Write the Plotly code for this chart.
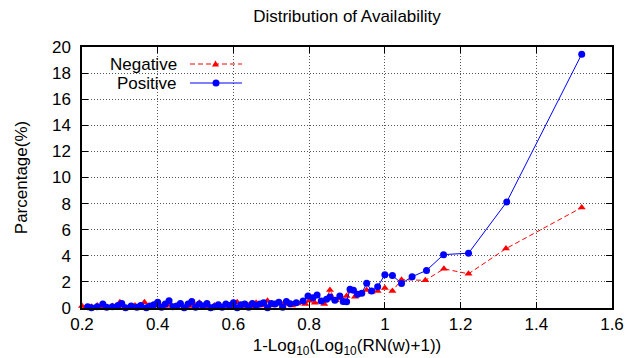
import plotly.graph_objects as go

# ---- data ----
neg_x = [0.2, 0.21, 0.225, 0.24, 0.25, 0.265, 0.28, 0.29, 0.3, 0.31,
         0.325, 0.34, 0.35, 0.365, 0.375, 0.385, 0.395, 0.41, 0.42, 0.435,
         0.45, 0.46, 0.475, 0.49, 0.5, 0.51, 0.52, 0.535, 0.55, 0.56,
         0.575, 0.59, 0.6, 0.61, 0.625, 0.64, 0.65, 0.66, 0.675, 0.69,
         0.70, 0.715, 0.73, 0.74, 0.755, 0.77, 0.78, 0.79, 0.80, 0.815,
         0.83, 0.84,
         0.855, 0.87, 0.88, 0.899, 0.91, 0.921, 0.935, 0.952, 0.965, 0.981,
         1.0, 1.02, 1.044, 1.107, 1.156, 1.221, 1.32, 1.52]
neg_y = [0.15, 0.05, 0.1, 0.2, 0.1, 0.05, 0.15, 0.1, 0.45, 0.15,
         0.1, 0.2, 0.05, 0.45, 0.15, 0.1, 0.2, 0.1, 0.15, 0.25,
         0.1, 0.2, 0.1, 0.15, 0.2, 0.4, 0.1, 0.15, 0.2, 0.05,
         0.2, 0.15, 0.1, 0.45, 0.15, 0.2, 0.1, 0.4, 0.2, 0.55,
         0.2, 0.4, 0.25, 0.3, 0.2, 0.35, 0.45, 0.3, 0.55, 0.4,
         0.5, 0.3,
         1.37, 0.6, 0.75, 0.92, 1.3, 0.87, 1.1, 1.38, 1.25, 1.3,
         1.53, 1.3, 2.17, 2.12, 3.0, 2.62, 4.55, 7.7]

pos_x = [0.215, 0.225, 0.24, 0.255, 0.265, 0.28, 0.295, 0.305, 0.315, 0.33,
         0.345, 0.355, 0.37, 0.38, 0.39, 0.40, 0.41, 0.42, 0.43, 0.44,
         0.45, 0.46, 0.47, 0.48, 0.49, 0.50, 0.51, 0.52, 0.53, 0.54,
         0.55, 0.56, 0.57, 0.58, 0.59, 0.60, 0.61, 0.62, 0.63, 0.64,
         0.65, 0.66, 0.67, 0.68, 0.69, 0.70, 0.71, 0.72, 0.73, 0.74,
         0.75, 0.766, 0.784, 0.797, 0.81, 0.821, 0.832, 0.846,
         0.855, 0.868, 0.881, 0.89, 0.899, 0.908, 0.917, 0.928, 0.939, 0.952,
         0.965, 0.981, 1.0, 1.02, 1.044, 1.072, 1.11, 1.155, 1.221, 1.322, 1.52]
pos_y = [0.1, 0.02, 0.1, 0.3, 0.05, 0.1, 0.2, 0.35, 0.02, 0.15,
         0.05, 0.2, 0.02, 0.15, 0.25, 0.45, 0.05, 0.3, 0.55, 0.1,
         0.15, 0.35, 0.02, 0.3, 0.5, 0.05, 0.3, 0.15, 0.35, 0.02,
         0.1, 0.25, 0.05, 0.3, 0.2, 0.4, 0.02, 0.25, 0.3, 0.05,
         0.35, 0.2, 0.3, 0.4, 0.02, 0.35, 0.3, 0.45, 0.05, 0.5,
         0.33, 0.4, 0.54, 0.92, 0.79, 1.0, 0.54, 0.67,
         0.85, 0.6, 0.92, 0.5, 0.48, 1.43, 1.36, 1.05, 1.13, 1.89,
         1.3, 1.63, 2.55, 2.5, 1.88, 2.4, 2.88, 4.09, 4.2, 8.13, 19.45]

x_ticks = [0.2, 0.4, 0.6, 0.8, 1.0, 1.2, 1.4, 1.6]
x_tick_text = ["0.2", "0.4", "0.6", "0.8", "1", "1.2", "1.4", "1.6"]
y_ticks = [0, 2, 4, 6, 8, 10, 12, 14, 16, 18, 20]

FONT = "Liberation Sans, Arial, Helvetica, sans-serif"
FS = 17

fig = go.Figure()
fig.add_trace(go.Scatter(
    x=neg_x, y=neg_y, name="Negative", mode="lines+markers",
    line=dict(color="#ff0000", width=1, dash="5px,3px"),
    marker=dict(symbol="triangle-up", size=7, color="#ff0000"),
    cliponaxis=False, showlegend=False))
fig.add_trace(go.Scatter(
    x=pos_x, y=pos_y, name="Positive", mode="lines+markers",
    line=dict(color="#0000ff", width=1),
    marker=dict(symbol="circle", size=7, color="#0000ff"),
    cliponaxis=False, showlegend=False))

L, R, T, B = 82, 18, 47, 50
W, H = 630, 358
pw, ph = W - L - R, H - T - B

def px(xp):
    return (xp - L) / pw

def py(yp):
    return (H - B - yp) / ph

# manual gnuplot-style key (text left, sample right)
shapes = []
annotations = []
key = [("Negative", "#ff0000", "5px,3px", 64, "tri"),
       ("Positive", "#0000ff", "solid", 83, "circ")]
for label, col, dash, yc, mk in key:
    annotations.append(dict(x=px(179), y=py(yc), xref="paper", yref="paper",
                            text=label, showarrow=False, xanchor="right",
                            yanchor="middle", font=dict(size=FS, color="black", family=FONT)))
    shapes.append(dict(type="line", xref="paper", yref="paper",
                       x0=px(190), x1=px(242), y0=py(yc), y1=py(yc),
                       line=dict(color=col, width=1, dash=dash)))
    if mk == "circ":
        shapes.append(dict(type="circle", xref="paper", yref="paper",
                           x0=px(212.5), x1=px(219.5), y0=py(yc + 3.5), y1=py(yc - 3.5),
                           fillcolor=col, line=dict(width=0)))
    else:
        path = "M {} {} L {} {} L {} {} Z".format(
            px(212), py(yc + 2.5), px(219), py(yc + 2.5), px(215.5), py(yc - 3.5))
        shapes.append(dict(type="path", xref="paper", yref="paper", path=path,
                           fillcolor=col, line=dict(width=0)))

fig.update_layout(
    width=W, height=H,
    margin=dict(l=L, r=R, t=T, b=B, autoexpand=False),
    paper_bgcolor="white", plot_bgcolor="white",
    font=dict(family=FONT, size=FS, color="black"),
    title=dict(text="Distribution of Availability", x=px(347), xref="paper",
               xanchor="center", y=1 - 10 / H, yref="container", yanchor="top",
               font=dict(size=FS, family=FONT, color="black")),
    shapes=shapes, annotations=annotations,
)
fig.update_xaxes(
    range=[0.2, 1.6], tickvals=x_ticks, ticktext=x_tick_text,
    ticks="inside", ticklen=6, tickcolor="black", tickwidth=1,
    showline=True, linecolor="black", linewidth=1.5, mirror="allticks",
    showgrid=True, gridcolor="#555555", griddash="1px,2px", gridwidth=1,
    zeroline=False, tickfont=dict(size=FS), automargin=False,
    title=dict(text="1-Log<sub>10</sub>(Log<sub>10</sub>(RN(w)+1))", font=dict(size=FS), standoff=10),
)
fig.update_yaxes(
    range=[0, 20], tickvals=y_ticks,
    ticks="inside", ticklen=6, tickcolor="black", tickwidth=1,
    showline=True, linecolor="black", linewidth=1.5, mirror="allticks",
    showgrid=True, gridcolor="#555555", griddash="1px,2px", gridwidth=1,
    zeroline=False, tickfont=dict(size=FS), ticklabelstandoff=6, automargin=False,
    title=dict(text="Parcentage(%)", font=dict(size=FS), standoff=20),
)

fig.write_html("out.html", config={"displayModeBar": False},
               post_script="document.body.style.margin='0';document.body.style.overflow='hidden';")
